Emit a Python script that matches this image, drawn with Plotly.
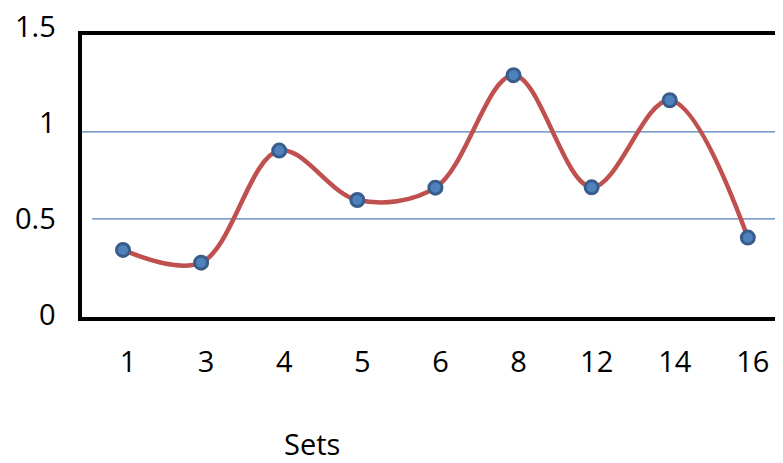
import plotly.graph_objects as go

sets = ["1", "3", "4", "5", "6", "8", "12", "14", "16"]
values = [0.322, 0.249, 0.893, 0.609, 0.680, 1.326, 0.682, 1.182, 0.393]
y_ticks = [0, 0.5, 1, 1.5]
y_tick_text = ["0", "0.5", "1", "1.5"]
grid_values = [0.5, 1.0]

FONT = "Open Sans"
# scale used for the (offset) y tick labels of the original picture
LABEL_LO, LABEL_HI = -0.0208, 1.448

fig = go.Figure()
fig.add_trace(go.Scatter(
    x=sets, y=values, mode="lines+markers",
    line=dict(color="#C0504D", width=4.5, shape="spline", smoothing=1.0),
    marker=dict(symbol="circle", size=13, color="#4F81BD",
                line=dict(color="#385D8A", width=3)),
    showlegend=False, hoverinfo="x+y",
))

grid_spans = {1.0: (0.0, 0.993), 0.5: (0.0143, 1.0)}
for gv in grid_values:
    x0, x1 = grid_spans[gv]
    fig.add_shape(type="line", xref="paper", yref="y", x0=x0, x1=x1, y0=gv, y1=gv,
                  line=dict(color="#4F81BD", width=1.3), layer="below")

# y tick labels (the top one sits above the frame, so they are placed as text labels)
for v, t in zip(y_ticks, y_tick_text):
    fig.add_annotation(text=t, xref="paper", yref="paper", x=0,
                       y=(v - LABEL_LO) / (LABEL_HI - LABEL_LO), xshift=-24,
                       showarrow=False, xanchor="right", yanchor="middle",
                       font=dict(family=FONT, size=29, color="#000"))

fig.add_annotation(text="Sets", xref="paper", yref="paper", x=0.328, y=-0.45,
                   showarrow=False, xanchor="center", yanchor="middle",
                   font=dict(family=FONT, size=29, color="#000"))

fig.update_layout(
    width=775, height=455,
    margin=dict(l=74, r=0, t=27, b=146, autoexpand=False),
    paper_bgcolor="white", plot_bgcolor="white",
    font=dict(family=FONT, size=29, color="#000"),
    xaxis=dict(type="category", range=[-0.525, 8.45], showgrid=False, zeroline=False,
               showline=True, linecolor="#000", linewidth=4, mirror=True,
               ticks="", ticklabelstandoff=16, ticklabelshift=5, automargin=False,
               tickfont=dict(family=FONT, size=29, color="#000")),
    yaxis=dict(range=[-0.0632, 1.557], showgrid=False, zeroline=False,
               showline=True, linecolor="#000", linewidth=4, mirror=False,
               showticklabels=False, ticks="", automargin=False),
)

fig.write_html("out.html")
